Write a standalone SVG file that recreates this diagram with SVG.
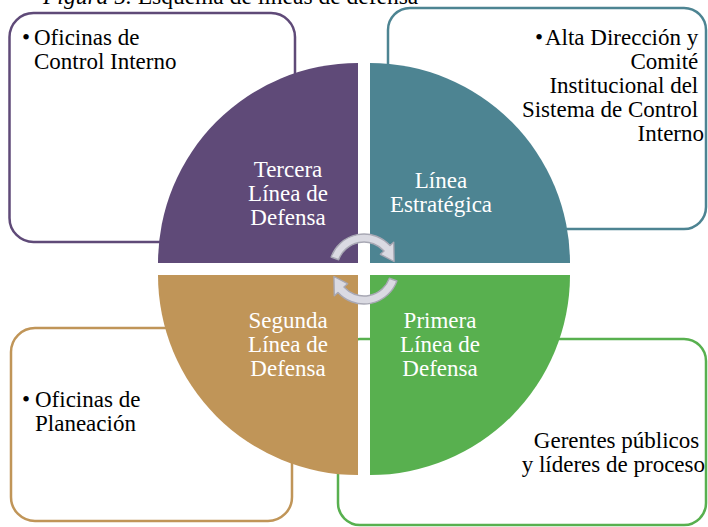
<svg xmlns="http://www.w3.org/2000/svg" width="708" height="527" viewBox="0 0 708 527">
<style>
  text { font-family: "Liberation Serif", "Times New Roman", serif; font-size: 23px; }
  .dark { fill: #000000; }
  .white { fill: #ffffff; text-anchor: middle; }
  .box { fill: #ffffff; stroke-width: 2.5; }
  .arrow { fill: #dadae2; stroke: #a8a8b4; stroke-width: 1.4; stroke-linejoin: round; }
</style>
<rect width="708" height="527" fill="#ffffff"/>
<text x="43" y="4" class="dark" style="font-size:23.5px"><tspan font-style="italic">Figura 5.</tspan> Esquema de líneas de defensa</text>

<g id="box-tercera">
  <rect class="box" x="9.5" y="13" width="285.5" height="229" rx="24" stroke="#5f4a78"/>
  <text x="22" y="45" class="dark">•</text>
  <text x="34" y="45" class="dark">Oficinas de</text>
  <text x="34" y="69" class="dark">Control Interno</text>
</g>
<g id="box-estrategica">
  <rect class="box" x="388" y="8" width="318" height="221" rx="22" stroke="#4d8492"/>
  <text x="535" y="45" class="dark">•</text>
  <text text-anchor="end" class="dark">
    <tspan x="704" y="45">Alta Dirección y</tspan>
    <tspan x="704" y="69">Comité</tspan>
    <tspan x="704" y="93">Institucional del</tspan>
    <tspan x="704" y="117">Sistema de Control</tspan>
    <tspan x="704" y="141">Interno</tspan>
  </text>
</g>
<g id="box-segunda">
  <rect class="box" x="11" y="328" width="281" height="193" rx="24" stroke="#c09558"/>
  <text x="22" y="407" class="dark">•</text>
  <text x="35" y="407" class="dark">Oficinas de</text>
  <text x="35" y="431" class="dark">Planeación</text>
</g>
<g id="box-primera">
  <rect class="box" x="338" y="339" width="368" height="186" rx="22" stroke="#58b04f"/>
  <text text-anchor="end" class="dark">
    <tspan x="705" y="448">Gerentes públicos</tspan>
    <tspan x="705" y="472">y líderes de proceso</tspan>
  </text>
</g>

<g id="q-tercera">
  <path d="M358 263 L158 263 A200 200 0 0 1 358 63 Z" fill="#5f4a78"/>
  <text class="white"><tspan x="288" y="177">Tercera</tspan><tspan x="288" y="201">Línea de</tspan><tspan x="288" y="225">Defensa</tspan></text>
</g>
<g id="q-estrategica">
  <path d="M370 263 L370 63 A200 200 0 0 1 570 263 Z" fill="#4d8492"/>
  <text class="white"><tspan x="441" y="188">Línea</tspan><tspan x="441" y="212">Estratégica</tspan></text>
</g>
<g id="q-primera">
  <path d="M370 275 L570 275 A200 200 0 0 1 370 475 Z" fill="#58b04f"/>
  <text class="white"><tspan x="440" y="328">Primera</tspan><tspan x="440" y="352">Línea de</tspan><tspan x="440" y="376">Defensa</tspan></text>
</g>
<g id="q-segunda">
  <path d="M358 275 L358 475 A200 200 0 0 1 158 275 Z" fill="#c09558"/>
  <text class="white"><tspan x="288" y="328">Segunda</tspan><tspan x="288" y="352">Línea de</tspan><tspan x="288" y="376">Defensa</tspan></text>
</g>

<g id="connectors">
  <path class="arrow" d="M331.11 257.03 A35 35 0 0 1 390.01 245.58 L393.72 242.24 L394.08 261.5 L380.35 254.28 L384.06 250.93 A27 27 0 0 0 338.63 259.77 Z"/>
  <path class="arrow" d="M396.89 280.97 A35 35 0 0 1 337.99 292.42 L334.28 295.76 L333.92 276.5 L347.65 283.72 L343.94 287.07 A27 27 0 0 0 389.37 278.23 Z"/>
</g>
</svg>
